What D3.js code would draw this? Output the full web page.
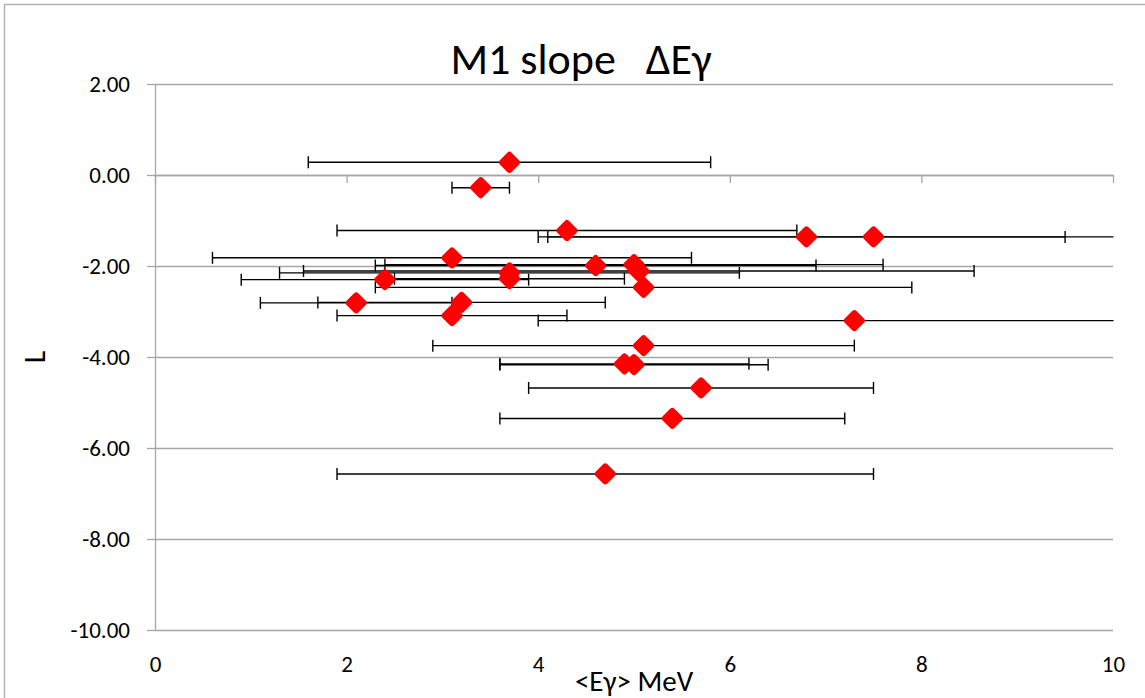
<!DOCTYPE html>
<html>
<head>
<meta charset="utf-8">
<script src="https://cdn.jsdelivr.net/npm/d3@7"></script>
<style>
  body { margin: 0; background: #fff; }
  text { font-family: Carlito, Calibri, Lato, sans-serif; fill: #000; }
</style>
</head>
<body>
<svg id="chart" width="1145" height="698"></svg>
<script>
// mean gamma energy (MeV), slope L, and the half-width of the energy window
var energy    = [3.7, 3.4, 4.3, 6.8, 7.5, 3.1, 4.6, 5.0, 5.05, 3.7, 3.7, 2.4, 5.1, 2.1, 3.2, 3.1, 7.3, 5.1, 4.9, 5.0, 5.7, 5.4, 4.7];
var slopeL    = [0.28, -0.28, -1.22, -1.36, -1.36, -1.82, -1.99, -1.97, -2.11, -2.15, -2.28, -2.30, -2.47, -2.81, -2.80, -3.09, -3.20, -3.75, -4.15, -4.17, -4.68, -5.35, -6.57];
var energyErr = [2.1, 0.3, 2.4, 2.7, 3.5, 2.5, 2.3, 2.6, 3.5, 2.4, 1.2, 1.5, 2.8, 1.0, 1.5, 1.2, 3.3, 2.2, 1.3, 1.4, 1.8, 1.8, 2.8];

var xTicks = [0, 2, 4, 6, 8, 10];
var yTicks = [2, 0, -2, -4, -6, -8, -10];

var svg = d3.select("#chart");
var plotL = 155, plotR = 1113, plotT = 84, plotB = 630;

var x = d3.scaleLinear().domain([0, 10]).range([plotL, plotR]);
var y = d3.scaleLinear().domain([-10, 2]).range([plotB, plotT]);

var fmt = function(d) { return d3.format(".2f")(d).replace("\u2212", "-"); };

// chart frame (right/bottom edges fall outside the picture)
svg.append("rect")
  .attr("x", 4.5).attr("y", 4.5)
  .attr("width", 1300).attr("height", 900)
  .attr("fill", "none").attr("stroke", "#b3b3b3").attr("stroke-width", 1.5);

// horizontal gridlines
svg.append("g")
  .attr("transform", "translate(" + plotL + ",0)")
  .call(d3.axisLeft(y).tickValues(yTicks).tickSize(-(plotR - plotL)).tickFormat(""))
  .call(function(g) {
    g.select(".domain").remove();
    g.selectAll("line").attr("stroke", "#a6a6a6").attr("stroke-width", 1.3);
  });

// y axis with labels
svg.append("g")
  .attr("transform", "translate(" + plotL + ",0)")
  .call(d3.axisLeft(y).tickValues(yTicks).tickSize(8).tickSizeOuter(0).tickPadding(17).tickFormat(fmt))
  .call(function(g) {
    g.select(".domain").attr("stroke", "#a6a6a6").attr("stroke-width", 1.3);
    g.selectAll("line").attr("stroke", "#a6a6a6").attr("stroke-width", 1.3);
    g.selectAll("text").attr("font-size", 23).attr("font-family", "Carlito, Calibri, Lato, sans-serif").attr("fill", "#000");
  });

// x axis line sits on L = 0
svg.append("g")
  .attr("transform", "translate(0," + y(0) + ")")
  .call(d3.axisBottom(x).tickValues(xTicks).tickSize(8).tickSizeOuter(0).tickFormat(""))
  .call(function(g) {
    g.select(".domain").attr("stroke", "#a6a6a6").attr("stroke-width", 1.3);
    g.selectAll("line").attr("stroke", "#a6a6a6").attr("stroke-width", 1.3);
  });

// x tick labels placed low, under the plot
svg.append("g")
  .attr("transform", "translate(0," + plotB + ")")
  .call(d3.axisBottom(x).tickValues(xTicks).tickSize(0).tickPadding(26))
  .call(function(g) {
    g.select(".domain").remove();
    g.selectAll("text").attr("font-size", 23).attr("font-family", "Carlito, Calibri, Lato, sans-serif").attr("fill", "#000");
  });

// error bars
svg.append("clipPath").attr("id", "plotclip")
  .append("rect").attr("x", plotL).attr("y", 0).attr("width", plotR - plotL + 0.5).attr("height", 698);

var idx = d3.range(energy.length);
var bars = svg.append("g").attr("clip-path", "url(#plotclip)")
  .selectAll("g").data(idx).enter().append("g")
  .attr("stroke", "#000").attr("stroke-width", 1.4);

bars.append("line")
  .attr("x1", function(i) { return x(energy[i] - energyErr[i]); })
  .attr("x2", function(i) { return x(energy[i] + energyErr[i]); })
  .attr("y1", function(i) { return y(slopeL[i]); })
  .attr("y2", function(i) { return y(slopeL[i]); });

[-1, 1].forEach(function(side) {
  bars.append("line")
    .attr("x1", function(i) { return x(energy[i] + side * energyErr[i]); })
    .attr("x2", function(i) { return x(energy[i] + side * energyErr[i]); })
    .attr("y1", function(i) { return y(slopeL[i]) - 6; })
    .attr("y2", function(i) { return y(slopeL[i]) + 6; });
});

// markers
var diamond = "M0,-7.5L7.5,0L0,7.5L-7.5,0Z";
svg.append("g").selectAll("path").data(idx).enter().append("path")
  .attr("d", diamond)
  .attr("transform", function(i) { return "translate(" + x(energy[i]) + "," + y(slopeL[i]) + ")"; })
  .attr("fill", "#ff0000").attr("stroke", "#ff0000")
  .attr("stroke-width", 6).attr("stroke-linejoin", "round");

// titles
svg.append("text")
  .attr("x", 581).attr("y", 74)
  .attr("text-anchor", "middle").attr("font-size", 44)
  .style("white-space", "pre")
  .text("M1 slope   \u0394E\u03b3");

svg.append("text")
  .attr("x", 634).attr("y", 691)
  .attr("text-anchor", "middle").attr("font-size", 29)
  .text("<E\u03b3> MeV");

svg.append("text")
  .attr("transform", "translate(45,357) rotate(-90)")
  .attr("text-anchor", "middle").attr("font-size", 30)
  .text("L");
</script>
</body>
</html>
